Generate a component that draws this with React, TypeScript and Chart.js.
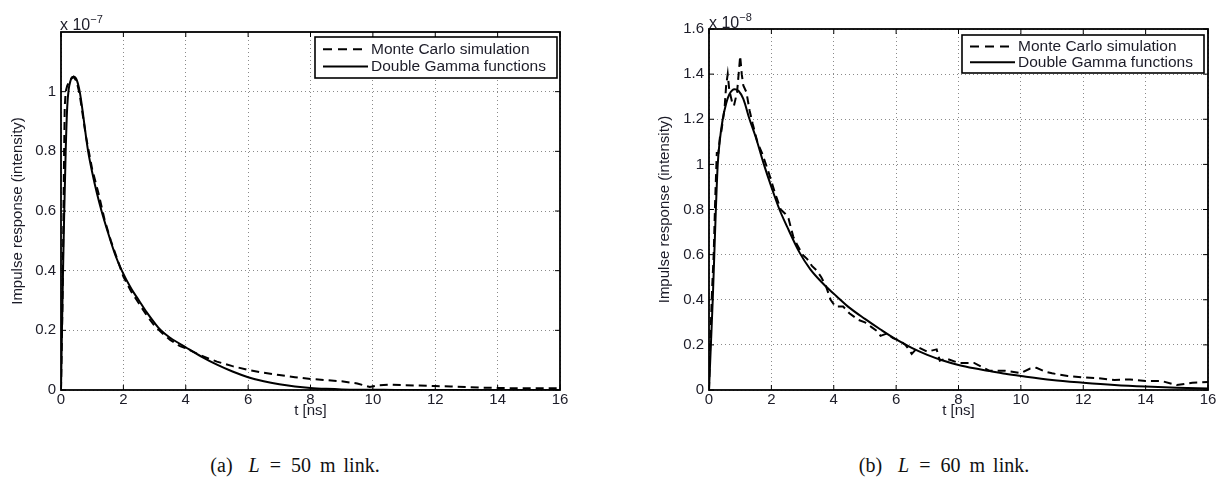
import React, { useEffect, useRef } from 'react';
import { Chart, registerables } from 'chart.js';
Chart.register(...registerables);

// ---------- data ----------
const xTickValues = [0, 2, 4, 6, 8, 10, 12, 14, 16];
const yTickValuesA = [0, 0.2, 0.4, 0.6, 0.8, 1];
const yTickValuesB = [0, 0.2, 0.4, 0.6, 0.8, 1, 1.2, 1.4, 1.6];

const legendLabels = ['Monte Carlo simulation', 'Double Gamma functions'];

// (a) L = 50 m, values x 1e-7
const tSimA = [0, 0.05, 0.08, 0.1, 0.12, 0.15, 0.2, 0.3, 0.4, 0.5, 0.6, 0.7, 0.8, 1.0, 1.2, 1.4, 1.6, 1.8, 2.0, 2.25, 2.5, 2.75, 3.0, 3.25, 3.5, 3.8, 4.1, 4.5, 5.0, 5.5, 6.0, 6.5, 7.0, 7.5, 8.0, 8.5, 9.0, 9.5, 9.9, 10.2, 10.5, 11, 11.5, 12, 12.5, 13, 13.5, 14, 14.5, 15, 15.5, 16];
const ySimA = [0, 0.3, 0.6, 0.8, 0.95, 1.0, 1.02, 1.04, 1.05, 1.035, 0.99, 0.92, 0.85, 0.74, 0.66, 0.57, 0.5, 0.44, 0.38, 0.33, 0.29, 0.25, 0.215, 0.19, 0.168, 0.148, 0.135, 0.115, 0.095, 0.08, 0.067, 0.058, 0.05, 0.043, 0.037, 0.033, 0.029, 0.022, 0.01, 0.016, 0.018, 0.016, 0.015, 0.013, 0.012, 0.01, 0.008, 0.007, 0.006, 0.006, 0.006, 0.006];
const tFitA = [0, 0.03, 0.065, 0.1, 0.15, 0.2, 0.25, 0.3, 0.35, 0.42, 0.5, 0.6, 0.7, 0.8, 0.87, 1.0, 1.15, 1.3, 1.5, 1.75, 1.95, 2.25, 2.5, 2.75, 3.0, 3.2, 3.5, 4.0, 4.5, 5.0, 5.5, 6.0, 6.5, 7.0, 7.5, 8.0, 8.5, 9, 10, 11, 12, 14, 16];
const yFitA = [0, 0.2, 0.4, 0.58, 0.8, 0.95, 1.01, 1.035, 1.048, 1.05, 1.04, 1.0, 0.93, 0.85, 0.8, 0.73, 0.66, 0.6, 0.53, 0.45, 0.4, 0.34, 0.3, 0.26, 0.225, 0.2, 0.175, 0.143, 0.112, 0.085, 0.062, 0.043, 0.029, 0.019, 0.012, 0.007, 0.004, 0.002, 0.001, 0, 0, 0, 0];

// (b) L = 60 m, values x 1e-8
const tSimB = [0, 0.05, 0.1, 0.15, 0.2, 0.25, 0.3, 0.35, 0.4, 0.5, 0.55, 0.6, 0.65, 0.7, 0.75, 0.8, 0.9, 0.95, 1.0, 1.05, 1.1, 1.2, 1.3, 1.4, 1.55, 1.7, 1.9, 2.1, 2.3, 2.45, 2.55, 2.7, 2.8, 3.0, 3.15, 3.3, 3.45, 3.6, 3.75, 3.9, 4.05, 4.3, 4.5, 4.8, 5.0, 5.2, 5.4, 5.5, 5.7, 5.9, 6.1, 6.3, 6.5, 6.7, 7.0, 7.3, 7.4, 7.6, 8.0, 8.5, 9.0, 9.5, 10.0, 10.3, 10.5, 10.8, 11.0, 11.5, 12, 12.5, 13, 13.5, 14, 14.5, 15, 15.5, 16];
const ySimB = [0, 0.25, 0.45, 0.6, 0.85, 1.05, 1.05, 1.12, 1.15, 1.25, 1.35, 1.4, 1.33, 1.3, 1.27, 1.26, 1.32, 1.4, 1.48, 1.4, 1.35, 1.32, 1.24, 1.18, 1.1, 1.05, 0.97, 0.88, 0.8, 0.78, 0.76, 0.68, 0.65, 0.6, 0.58, 0.55, 0.53, 0.5, 0.46, 0.4, 0.37, 0.37, 0.34, 0.31, 0.3, 0.28, 0.26, 0.24, 0.25, 0.23, 0.22, 0.2, 0.16, 0.19, 0.17, 0.18, 0.13, 0.14, 0.12, 0.12, 0.085, 0.085, 0.075, 0.095, 0.098, 0.08, 0.074, 0.062, 0.056, 0.052, 0.044, 0.047, 0.04, 0.04, 0.022, 0.032, 0.035];
const tFitB = [0, 0.06, 0.12, 0.17, 0.22, 0.28, 0.35, 0.44, 0.55, 0.65, 0.82, 0.95, 1.1, 1.3, 1.5, 1.76, 2.0, 2.26, 2.5, 2.9, 3.25, 3.6, 3.87, 4.08, 4.5, 5.0, 5.5, 6.0, 6.5, 7.0, 7.5, 8.0, 8.5, 9.0, 9.5, 10, 11, 12, 13, 14, 15, 16];
const yFitB = [0, 0.2, 0.4, 0.6, 0.8, 1.0, 1.11, 1.2, 1.27, 1.31, 1.333, 1.325, 1.29, 1.2, 1.12, 1.0, 0.9, 0.8, 0.725, 0.61, 0.535, 0.48, 0.443, 0.417, 0.365, 0.315, 0.268, 0.224, 0.187, 0.156, 0.131, 0.111, 0.096, 0.084, 0.072, 0.062, 0.044, 0.032, 0.022, 0.015, 0.01, 0.007];

const FONT = '"Liberation Sans", Arial, Helvetica, sans-serif';
const SERIF = '"Liberation Serif", "DejaVu Serif", serif';
const TEXT = '#1c1c28';

const zip = (t: number[], y: number[]) => t.map((v, i) => ({ x: v, y: y[i] }));

const framePlugin = {
  id: 'frame',
  afterDatasetsDraw(chart: any, _args: any, opts: any) {
    const { ctx, chartArea: a, scales } = chart;
    ctx.save();
    ctx.setLineDash([]);
    ctx.strokeStyle = '#000';
    // inward tick marks
    ctx.lineWidth = 1;
    const L = 5;
    ctx.beginPath();
    scales.x.ticks.forEach((t: any) => {
      const px = scales.x.getPixelForValue(t.value);
      ctx.moveTo(px, a.bottom); ctx.lineTo(px, a.bottom - L);
      ctx.moveTo(px, a.top); ctx.lineTo(px, a.top + L);
    });
    scales.y.ticks.forEach((t: any) => {
      const py = scales.y.getPixelForValue(t.value);
      ctx.moveTo(a.left, py); ctx.lineTo(a.left + L, py);
      ctx.moveTo(a.right, py); ctx.lineTo(a.right - L, py);
    });
    ctx.stroke();
    // box
    ctx.lineWidth = 1.8;
    ctx.strokeRect(a.left, a.top, a.right - a.left, a.bottom - a.top);

    // legend
    const w = opts.w, h = opts.h;
    const bx = a.right - opts.dx - w;
    const by = a.top + opts.dy;
    ctx.fillStyle = '#fff';
    ctx.fillRect(bx, by, w, h);
    ctx.lineWidth = 1.6;
    ctx.strokeRect(bx, by, w, h);
    const rows = [by + h * 0.3, by + h * 0.72];
    ctx.lineWidth = 2;
    ctx.setLineDash([9, 6]);
    ctx.beginPath();
    ctx.moveTo(bx + 8, rows[0]); ctx.lineTo(bx + 53, rows[0]);
    ctx.stroke();
    ctx.setLineDash([]);
    ctx.beginPath();
    ctx.moveTo(bx + 8, rows[1]); ctx.lineTo(bx + 53, rows[1]);
    ctx.stroke();
    ctx.fillStyle = TEXT;
    ctx.font = `15.5px ${FONT}`;
    ctx.textBaseline = 'middle';
    ctx.textAlign = 'left';
    ctx.fillText(legendLabels[0], bx + 56, rows[0]);
    ctx.fillText(legendLabels[1], bx + 56, rows[1]);
    ctx.restore();
  },
};

function makeConfig(p: {
  sim: { x: number; y: number }[];
  fit: { x: number; y: number }[];
  yMax: number;
  yTicks: number[];
  yWidth: number;
  padTop: number;
  padRight: number;
  titlePad: number;
  legend: { w: number; h: number; dx: number; dy: number };
}) {
  return {
    type: 'line' as const,
    data: {
      datasets: [
        {
          label: legendLabels[0],
          data: p.sim,
          borderColor: '#000',
          borderWidth: 2,
          borderDash: [8, 5],
          pointRadius: 0,
          tension: 0,
          fill: false,
        },
        {
          label: legendLabels[1],
          data: p.fit,
          borderColor: '#000',
          borderWidth: 2,
          pointRadius: 0,
          cubicInterpolationMode: 'monotone' as const,
          fill: false,
        },
      ],
    },
    options: {
      animation: false as const,
      responsive: false,
      maintainAspectRatio: false,
      layout: { padding: { top: p.padTop, right: p.padRight, left: 0, bottom: 0 } },
      plugins: {
        legend: { display: false },
        tooltip: { enabled: false },
        frame: p.legend,
      },
      scales: {
        x: {
          type: 'linear' as const,
          min: 0,
          max: 16,
          afterBuildTicks: (s: any) => { s.ticks = xTickValues.map((v) => ({ value: v })); },
          afterFit: (s: any) => { s.height = 30; },
          ticks: {
            color: TEXT,
            font: { family: FONT, size: 15 },
            padding: 1,
            maxRotation: 0,
            autoSkip: false,
          },
          grid: { color: '#8a8a8a', lineWidth: 1, drawTicks: false },
          border: { display: false, dash: [1, 3] },
          title: {
            display: true,
            text: 't [ns]',
            color: TEXT,
            font: { family: FONT, size: 15 },
            padding: { top: 0, bottom: 0 },
          },
        },
        y: {
          type: 'linear' as const,
          min: 0,
          max: p.yMax,
          afterBuildTicks: (s: any) => { s.ticks = p.yTicks.map((v) => ({ value: v })); },
          afterFit: (s: any) => { s.width = p.yWidth; },
          ticks: {
            color: TEXT,
            font: { family: FONT, size: 15 },
            padding: 5,
            callback: (v: any) => String(Math.round(v * 10) / 10),
          },
          grid: { color: '#8a8a8a', lineWidth: 1, drawTicks: false },
          border: { display: false, dash: [1, 3] },
          title: {
            display: true,
            text: 'Impulse response (intensity)',
            color: TEXT,
            font: { family: FONT, size: 15 },
            padding: { top: p.titlePad, bottom: 0 },
          },
        },
      },
    },
    plugins: [framePlugin],
  };
}

function Panel(props: { cfg: any; left: number; width: number; height: number }) {
  const ref = useRef<HTMLCanvasElement>(null);
  useEffect(() => {
    const chart = new Chart(ref.current as HTMLCanvasElement, props.cfg);
    return () => chart.destroy();
  }, []);
  return (
    <canvas
      ref={ref}
      width={props.width}
      height={props.height}
      style={{ position: 'absolute', left: props.left, top: 0, width: props.width, height: props.height }}
    />
  );
}

const cfgA = makeConfig({
  sim: zip(tSimA, ySimA),
  fit: zip(tFitA, yFitA),
  yMax: 1.2,
  yTicks: yTickValuesA,
  yWidth: 61,
  padTop: 32,
  padRight: 40,
  titlePad: 9,
  legend: { w: 242, h: 41, dx: 3, dy: 5 },
});

const cfgB = makeConfig({
  sim: zip(tSimB, ySimB),
  fit: zip(tFitB, yFitB),
  yMax: 1.6,
  yTicks: yTickValuesB,
  yWidth: 69,
  padTop: 29,
  padRight: 15,
  titlePad: 16,
  legend: { w: 242, h: 38, dx: 4, dy: 6 },
});

const expStyle: React.CSSProperties = {
  position: 'absolute',
  fontFamily: FONT,
  fontSize: 16,
  color: TEXT,
  whiteSpace: 'pre',
  lineHeight: '16px',
};
const capStyle: React.CSSProperties = {
  position: 'absolute',
  fontFamily: SERIF,
  fontSize: 20,
  color: '#111',
  whiteSpace: 'pre',
  lineHeight: '22px',
  textAlign: 'center',
  width: 300,
};
const gap = (w: number): React.CSSProperties => ({ display: 'inline-block', width: w });

function Caption(props: { tag: string; len: string; left: number }) {
  return (
    <div style={{ ...capStyle, left: props.left, top: 454 }}>
      {props.tag}
      <span style={gap(16)} />
      <i>L</i>
      <span style={gap(10)} />
      =
      <span style={gap(10)} />
      {props.len}
      <span style={gap(9)} />
      m
      <span style={gap(8)} />
      link.
    </div>
  );
}

export default function App() {
  return (
    <div style={{ position: 'absolute', left: 0, top: 0, width: 1223, height: 477, background: '#fff', overflow: 'hidden' }}>
      <Panel cfg={cfgA} left={0} width={600} height={420} />
      <Panel cfg={cfgB} left={640} width={583} height={420} />
      <div style={{ ...expStyle, left: 60, top: 11 }}>
        x 10<sup style={{ fontSize: 11, verticalAlign: 7 }}>−7</sup>
      </div>
      <div style={{ ...expStyle, left: 709, top: 9 }}>
        x 10<sup style={{ fontSize: 11, verticalAlign: 7 }}>−8</sup>
      </div>
      <Caption tag="(a)" len="50" left={145} />
      <Caption tag="(b)" len="60" left={794} />
    </div>
  );
}
